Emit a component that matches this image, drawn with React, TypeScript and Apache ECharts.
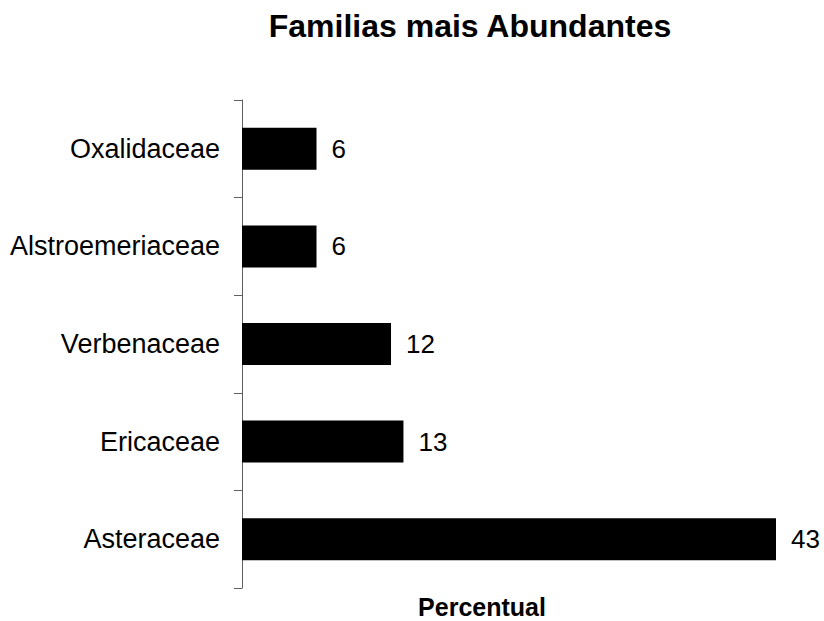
import React, { useEffect, useRef } from "react";
import * as echarts from "echarts";

const categories = ["Asteraceae", "Ericaceae", "Verbenaceae", "Alstroemeriaceae", "Oxalidaceae"];
const values = [43, 13, 12, 6, 6];
const titleText = "Familias mais Abundantes";
const xAxisTitle = "Percentual";

const FONT = "'Liberation Sans', Arial, sans-serif";

export default function App() {
  const ref = useRef<HTMLDivElement>(null);
  useEffect(() => {
    if (!ref.current) return;
    const chart = echarts.init(ref.current, null, { renderer: "svg" });
    chart.setOption({
      animation: false,
      backgroundColor: "#ffffff",
      grid: { left: 242, right: 48, top: 100, bottom: 33, containLabel: false },
      xAxis: {
        type: "value",
        min: 0,
        max: 43,
        show: false,
      },
      yAxis: {
        type: "category",
        data: categories,
        axisLine: { show: true, lineStyle: { color: "#606060", width: 1 } },
        axisTick: { show: true, length: 8, lineStyle: { color: "#606060", width: 1 } },
        axisLabel: { fontFamily: FONT, fontSize: 27, color: "#000", margin: 22 },
        splitLine: { show: false },
      },
      series: [
        {
          type: "bar",
          data: values,
          barWidth: 42,
          itemStyle: { color: "#000000" },
          label: {
            show: true,
            position: "right",
            distance: 15,
            fontFamily: FONT,
            fontSize: 26,
            color: "#000",
          },
        },
      ],
      graphic: [
        {
          type: "text",
          x: 470,
          y: 26,
          style: {
            text: titleText,
            fontFamily: FONT,
            fontSize: 32,
            fontWeight: "bold",
            fill: "#000",
            align: "center",
            verticalAlign: "middle",
          },
        },
        {
          type: "text",
          x: 482,
          y: 607,
          style: {
            text: xAxisTitle,
            fontFamily: FONT,
            fontSize: 25,
            lineHeight: 25,
            fontWeight: "bold",
            fill: "#000",
            align: "center",
            verticalAlign: "middle",
          },
        },
      ],
    });
    return () => chart.dispose();
  }, []);
  return <div ref={ref} style={{ width: 824, height: 621, position: "absolute", left: 0, top: 0 }} />;
}
